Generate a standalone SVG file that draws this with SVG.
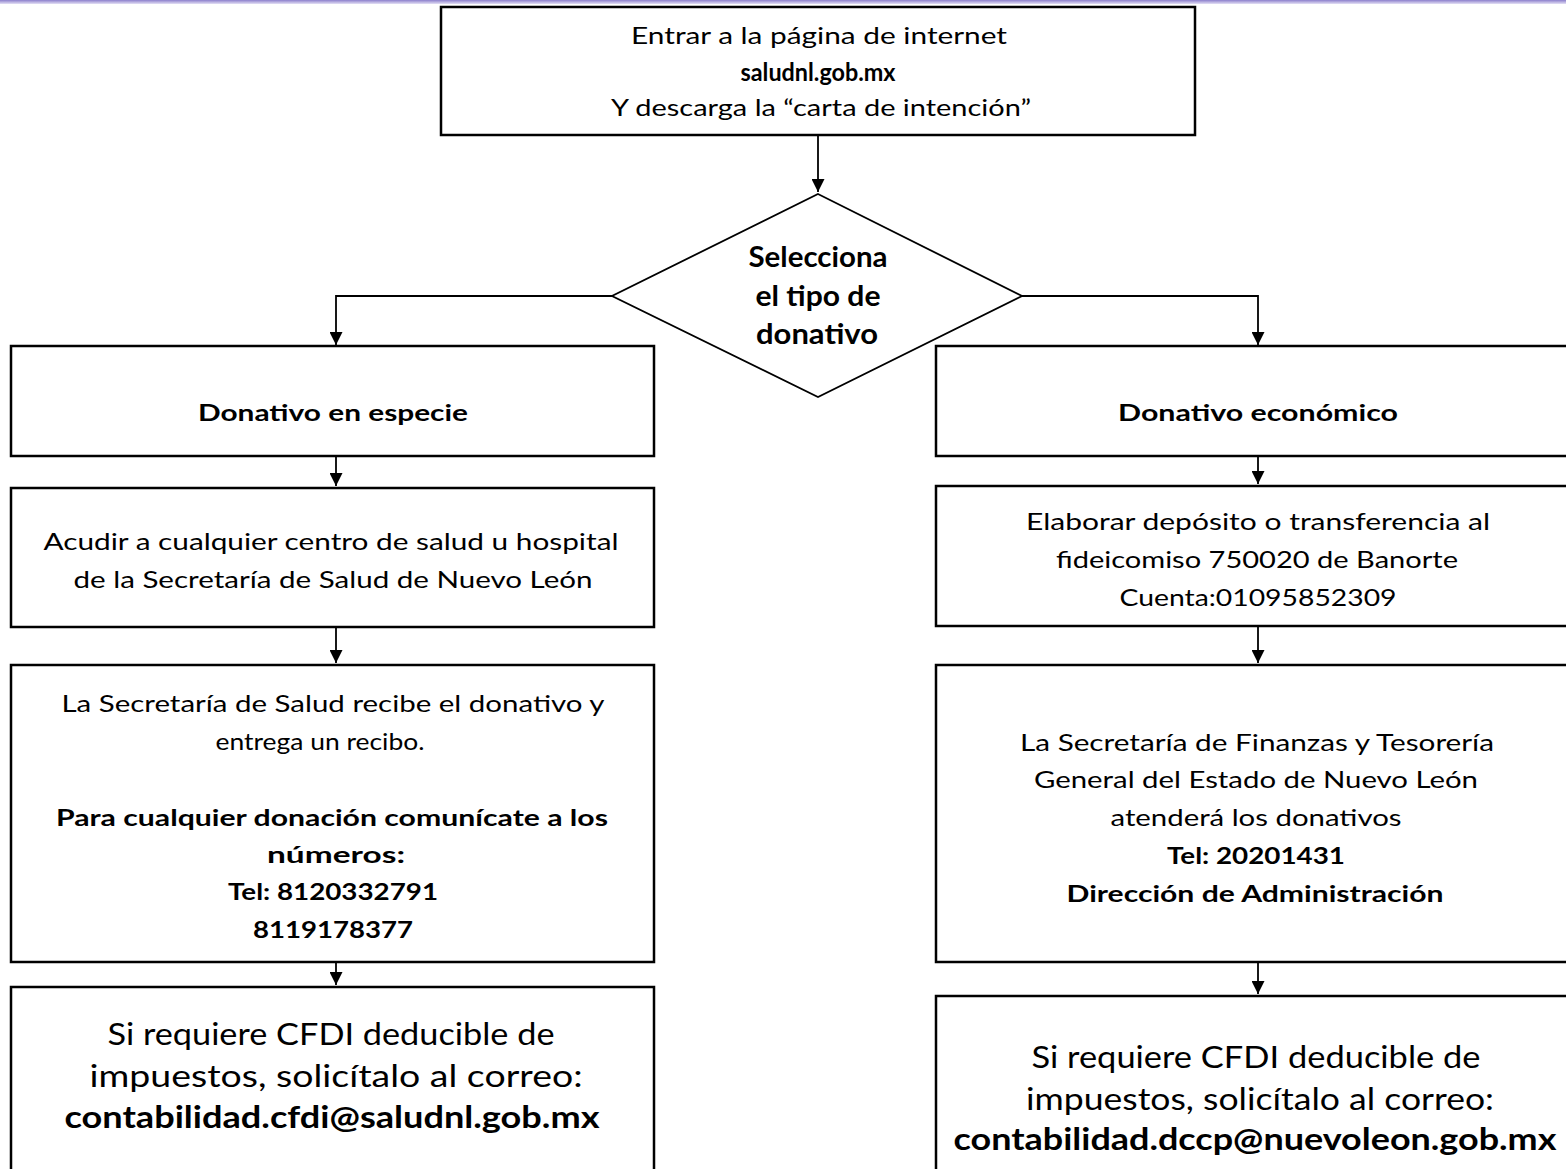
<svg xmlns="http://www.w3.org/2000/svg" width="1566" height="1169" viewBox="0 0 1566 1169">
<style>
.box{fill:#fff;stroke:#000;stroke-width:2.5}
.dia{fill:#fff;stroke:#000;stroke-width:1.8}
.con{fill:none;stroke:#000;stroke-width:1.8}
text{font-family:Lato,"Liberation Sans",sans-serif;fill:#000;text-anchor:middle}
.t{font-size:23px}
.b{font-size:23px;font-weight:bold}
.big{font-size:30px}
.bigb{font-size:30px;font-weight:bold}
.dt{font-size:28px;font-weight:bold}
</style>
<defs>
<marker id="ah" viewBox="0 0 10 10" refX="10" refY="5" markerWidth="13" markerHeight="13" markerUnits="userSpaceOnUse" orient="auto">
<path d="M0,0 L10,5 L0,10 Z" fill="#000"/>
</marker>
<linearGradient id="topbar" x1="0" y1="0" x2="0" y2="1">
<stop offset="0" stop-color="#8c7fcc"/>
<stop offset="1" stop-color="#e4e0f5"/>
</linearGradient>
</defs>
<rect x="0" y="0" width="1566" height="1169" fill="#fff"/>
<rect x="0" y="0" width="1566" height="4" fill="url(#topbar)"/>
<g id="connectors">
<path class="con" d="M818,136 V192" marker-end="url(#ah)"/>
<path class="con" d="M612,296 H336 V345" marker-end="url(#ah)"/>
<path class="con" d="M1022,296 H1258 V345" marker-end="url(#ah)"/>
<path class="con" d="M336,457 V486" marker-end="url(#ah)"/>
<path class="con" d="M336,628 V663" marker-end="url(#ah)"/>
<path class="con" d="M336,963 V985" marker-end="url(#ah)"/>
<path class="con" d="M1258,457 V484" marker-end="url(#ah)"/>
<path class="con" d="M1258,627 V663" marker-end="url(#ah)"/>
<path class="con" d="M1258,963 V994" marker-end="url(#ah)"/>
</g>
<g id="n-start">
<rect class="box" x="441" y="7" width="754" height="128"/>
<text class="t" x="819" y="44" textLength="376" lengthAdjust="spacingAndGlyphs">Entrar a la página de internet</text>
<text class="b" x="818" y="81" style="font-size:25px" textLength="155" lengthAdjust="spacingAndGlyphs">saludnl.gob.mx</text>
<text class="t" x="821" y="116" textLength="420" lengthAdjust="spacingAndGlyphs">Y descarga la “carta de intención”</text>
</g>
<g id="n-decision">
<polygon class="dia" points="818,194 1022,296 818,397 612,296"/>
<text class="dt" x="818" y="267" textLength="139" lengthAdjust="spacingAndGlyphs">Selecciona</text>
<text class="dt" x="818" y="306" textLength="125" lengthAdjust="spacingAndGlyphs">el tipo de</text>
<text class="dt" x="817" y="344" textLength="122" lengthAdjust="spacingAndGlyphs">donativo</text>
</g>
<g id="n-especie">
<rect class="box" x="11" y="346" width="643" height="110"/>
<text class="b" x="333" y="421" textLength="270" lengthAdjust="spacingAndGlyphs">Donativo en especie</text>
</g>
<g id="n-acudir">
<rect class="box" x="11" y="488" width="643" height="139"/>
<text class="t" x="331" y="550" textLength="575" lengthAdjust="spacingAndGlyphs">Acudir a cualquier centro de salud u hospital</text>
<text class="t" x="333" y="588" textLength="519" lengthAdjust="spacingAndGlyphs">de la Secretaría de Salud de Nuevo León</text>
</g>
<g id="n-recibe">
<rect class="box" x="11" y="665" width="643" height="297"/>
<text class="t" x="333" y="712" textLength="543" lengthAdjust="spacingAndGlyphs">La Secretaría de Salud recibe el donativo y</text>
<text class="t" x="320" y="750" textLength="209" lengthAdjust="spacingAndGlyphs">entrega un recibo.</text>
<text class="b" x="332" y="826" textLength="552" lengthAdjust="spacingAndGlyphs">Para cualquier donación comunícate a los</text>
<text class="b" x="336" y="863" textLength="138" lengthAdjust="spacingAndGlyphs">números:</text>
<text class="b" x="333" y="900" textLength="210" lengthAdjust="spacingAndGlyphs">Tel: 8120332791</text>
<text class="b" x="333" y="938" textLength="160" lengthAdjust="spacingAndGlyphs">8119178377</text>
</g>
<g id="n-cfdi-left">
<rect class="box" x="11" y="987" width="643" height="190"/>
<text class="big" x="331" y="1045" textLength="447" lengthAdjust="spacingAndGlyphs">Si requiere CFDI deducible de</text>
<text class="big" x="336" y="1087" textLength="493" lengthAdjust="spacingAndGlyphs">impuestos, solicítalo al correo:</text>
<text class="bigb" x="332" y="1128" textLength="535" lengthAdjust="spacingAndGlyphs">contabilidad.cfdi@saludnl.gob.mx</text>
</g>
<g id="n-economico">
<rect class="box" x="936" y="346" width="640" height="110"/>
<text class="b" x="1258" y="421" textLength="280" lengthAdjust="spacingAndGlyphs">Donativo económico</text>
</g>
<g id="n-deposito">
<rect class="box" x="936" y="486" width="640" height="140"/>
<text class="t" x="1258" y="530" textLength="464" lengthAdjust="spacingAndGlyphs">Elaborar depósito o transferencia al</text>
<text class="t" x="1257" y="568" textLength="402" lengthAdjust="spacingAndGlyphs">fideicomiso 750020 de Banorte</text>
<text class="t" x="1258" y="606" textLength="277" lengthAdjust="spacingAndGlyphs">Cuenta:01095852309</text>
</g>
<g id="n-finanzas">
<rect class="box" x="936" y="665" width="640" height="297"/>
<text class="t" x="1257" y="751" textLength="474" lengthAdjust="spacingAndGlyphs">La Secretaría de Finanzas y Tesorería</text>
<text class="t" x="1256" y="788" textLength="444" lengthAdjust="spacingAndGlyphs">General del Estado de Nuevo León</text>
<text class="t" x="1256" y="826" textLength="291" lengthAdjust="spacingAndGlyphs">atenderá los donativos</text>
<text class="b" x="1256" y="864" textLength="178" lengthAdjust="spacingAndGlyphs">Tel: 20201431</text>
<text class="b" x="1255" y="902" textLength="377" lengthAdjust="spacingAndGlyphs">Dirección de Administración</text>
</g>
<g id="n-cfdi-right">
<rect class="box" x="936" y="996" width="640" height="190"/>
<text class="big" x="1256" y="1068" textLength="449" lengthAdjust="spacingAndGlyphs">Si requiere CFDI deducible de</text>
<text class="big" x="1260" y="1110" textLength="468" lengthAdjust="spacingAndGlyphs">impuestos, solicítalo al correo:</text>
<text class="bigb" x="1255" y="1150" textLength="603" lengthAdjust="spacingAndGlyphs">contabilidad.dccp@nuevoleon.gob.mx</text>
</g>
</svg>
